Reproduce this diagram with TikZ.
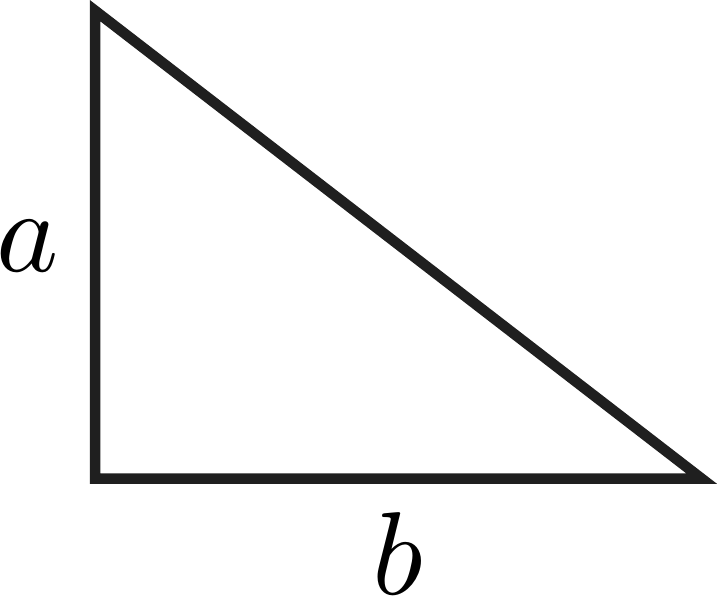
\documentclass[tikz,border=0pt]{standalone}
\tikzset{
  edge/.style={line width=10.5pt, color=black!88, line join=miter, miter limit=10},
  lbl/.style={inner sep=0pt, anchor=base, scale=11.8}
}
\begin{document}
\begin{tikzpicture}[x=1pt,y=-1pt]
\useasboundingbox (0,0) rectangle (718,599);
\coordinate (A) at (95,10.6);
\coordinate (B) at (95,478.5);
\coordinate (C) at (701.5,478.5);
\draw[edge] (A) -- (B) -- (C) -- cycle;
\node[lbl] (la) at (28,271) {$a$};
\node[lbl] (lb) at (398,594) {$b$};
\end{tikzpicture}
\end{document}
